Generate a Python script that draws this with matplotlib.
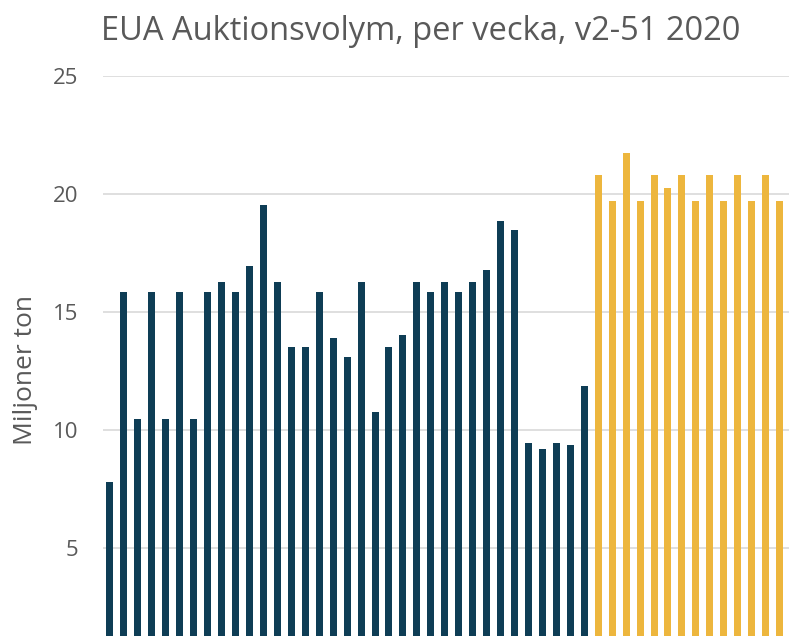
import matplotlib
matplotlib.use("Agg")
import matplotlib.pyplot as plt
import numpy as np

# Auktionsvolym per vecka (miljoner ton)
historik = [7.8, 15.85, 10.45, 15.85, 10.45, 15.85, 10.45, 15.85, 16.25, 15.85,
            16.95, 19.5, 16.25, 13.5, 13.5, 15.85, 13.9, 13.1, 16.25, 10.75,
            13.5, 14.0, 16.25, 15.85, 16.25, 15.85, 16.25, 16.75, 18.85, 18.45,
            9.45, 9.2, 9.45, 9.35, 11.85]
prognos = [20.8, 19.7, 21.7, 19.7, 20.8, 20.25, 20.8, 19.7, 20.8, 19.7,
           20.8, 19.7, 20.8, 19.7]

title = "EUA Auktionsvolym, per vecka, v2-51 2020"
ylabel = "Miljoner ton"
yticks = [5, 10, 15, 20, 25]

dark = "#0e3d55"
yellow = "#edb63d"
grey_text = "#595959"
grid_col = "#d9d9d9"

plt.rcParams['font.family'] = ['Open Sans', 'DejaVu Sans']

W, H = 789, 636
fig = plt.figure(figsize=(W / 100, H / 100), dpi=100)

# the original is cropped: bottom (0) and the right edge lie outside the image
left_px, top_px, zero_px = 103, 75.5, 666
ax = fig.add_axes([left_px / W, (H - zero_px) / H, 1 - left_px / W, (zero_px - top_px) / H])

n_hist = len(historik)
x_hist = np.arange(n_hist)
x_prog = np.arange(n_hist, n_hist + len(prognos))
ax.bar(x_hist, historik, width=0.5, color=dark, zorder=2)
ax.bar(x_prog, prognos, width=0.5, color=yellow, zorder=2)

pitch = 13.95
ax.set_xlim(-0.5, (W - left_px) / pitch - 0.5)
ax.set_ylim(0, 25)
ax.set_yticks(yticks)
ax.set_yticklabels([str(t) for t in yticks], fontsize=16, color=grey_text)
ax.tick_params(axis='y', length=0, pad=18)
ax.set_xticks([])
ax.grid(axis='y', color=grid_col, linewidth=1.2, zorder=0)
for s in ax.spines.values():
    s.set_visible(False)

fig.text(25 / W, 1 - 370 / H, ylabel, rotation=90, ha='center', va='center',
         fontsize=19, color=grey_text)
fig.text(101 / W, 1 - 32 / H, title, ha='left', va='center',
         fontsize=23.5, color=grey_text)

fig.savefig("out.png", dpi=100)
